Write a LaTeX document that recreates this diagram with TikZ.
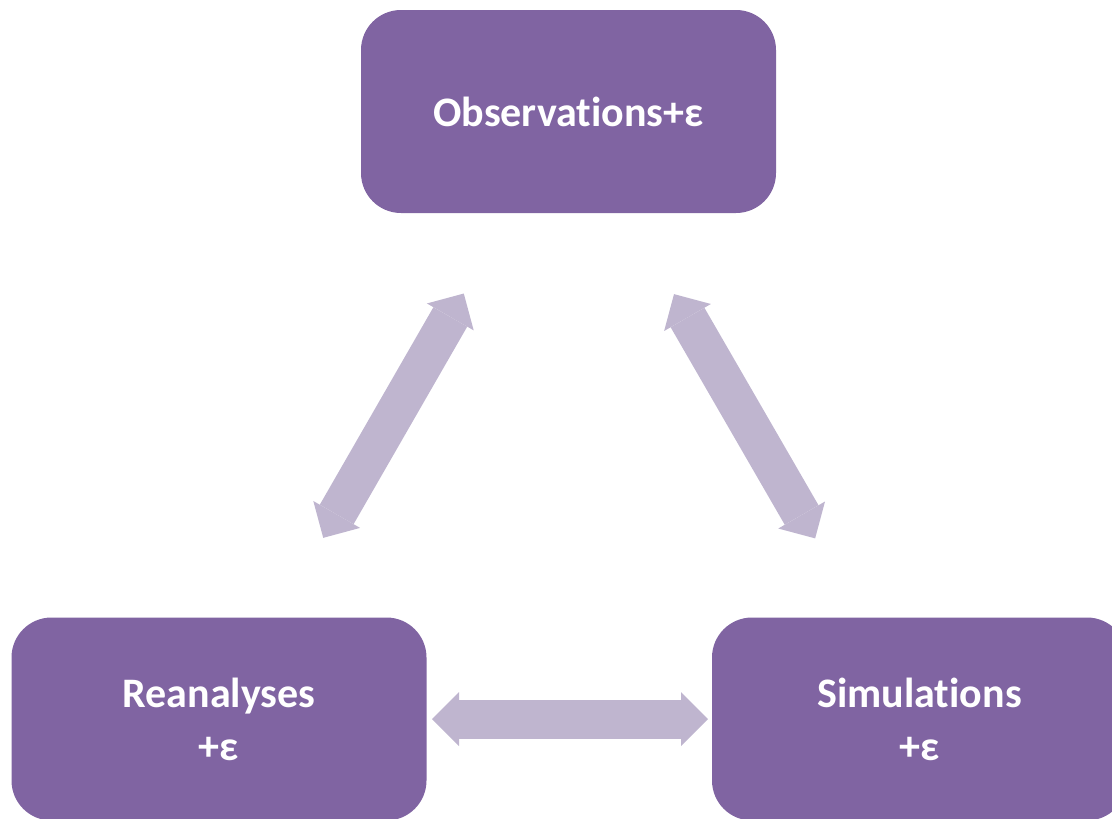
\documentclass[tikz,border=0pt]{standalone}
\usepackage{fontspec}
\setmainfont{Carlito}[Ligatures={NoCommon}]
\usetikzlibrary{arrows.meta}
\definecolor{boxpurple}{HTML}{8064A2}
\definecolor{arrowlav}{HTML}{BFB5CF}
\begin{document}
\begin{tikzpicture}[x=1pt,y=-1pt,
  box/.style={fill=boxpurple, rounded corners=40pt, minimum width=415pt, minimum height=203pt,
    text=white, font=\bfseries\fontsize{42}{53}\selectfont, align=center, inner sep=0pt},
  link/.style={draw=arrowlav, line width=39pt,
    {Triangle[length=27pt,width=54pt,line width=0pt]}-{Triangle[length=27pt,width=54pt,line width=0pt]}}]
\useasboundingbox (0,0) rectangle (1112,819);
\clip (0,0) rectangle (1112,819);
\node[box] (O) at (568.5,111.5) {Observations+ε};
\node[box] (R) at (219,719) {Reanalyses\\+ε};
\node[box] (S) at (919.5,719) {Simulations\\+ε};
\draw[link, shorten <=209pt, shorten >=210pt] (R.center) -- (O.center);
\draw[link, shorten <=208.6pt, shorten >=210.9pt] (S.center) -- (O.center);
\draw[link, shorten <=213pt, shorten >=211.5pt] (R.center) -- (S.center);
\end{tikzpicture}
\end{document}
